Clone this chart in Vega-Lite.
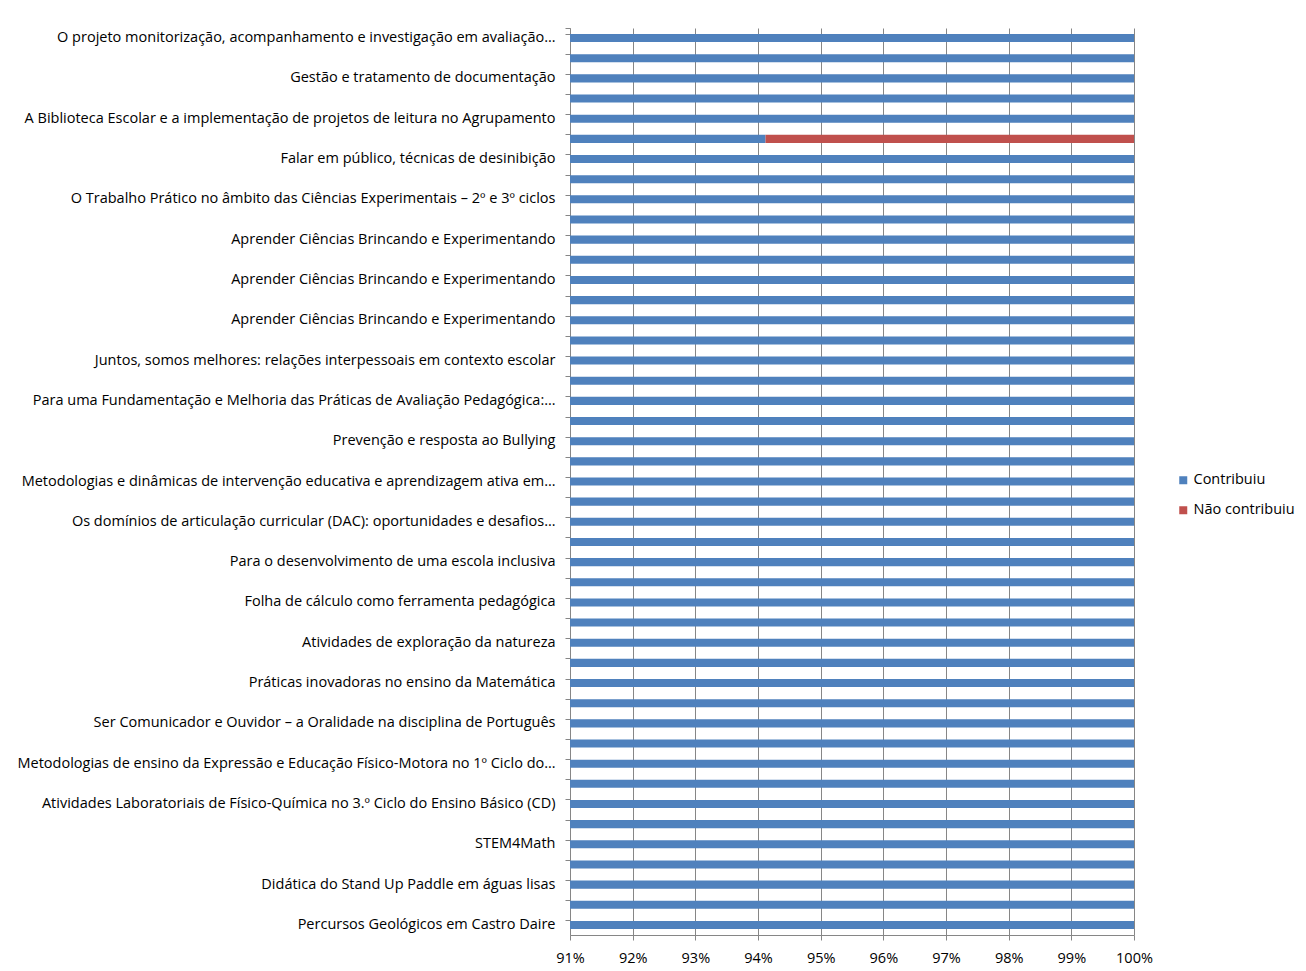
{
  "$schema": "https://vega.github.io/schema/vega-lite/v6.json",
  "autosize": {"type": "none"},
  "width": 564,
  "height": 907,
  "padding": {"left": 570, "top": 28, "right": 172, "bottom": 36},
  "background": "#ffffff",
  "config": {
    "view": {"stroke": null},
    "font": "Open Sans"
  },
  "data": {
    "values": [
      {"chave": "01|O projeto monitorização, acompanhamento e investigação em avaliação…", "avaliacao": "Contribuiu", "valor": 1.0},
      {"chave": "02|", "avaliacao": "Contribuiu", "valor": 1.0},
      {"chave": "03|Gestão e tratamento de documentação", "avaliacao": "Contribuiu", "valor": 1.0},
      {"chave": "04|", "avaliacao": "Contribuiu", "valor": 1.0},
      {"chave": "05|A Biblioteca Escolar e a implementação de projetos de leitura no Agrupamento", "avaliacao": "Contribuiu", "valor": 1.0},
      {"chave": "06|", "avaliacao": "Contribuiu", "valor": 0.9412},
      {"chave": "06|", "avaliacao": "Não contribuiu", "valor": 0.0588},
      {"chave": "07|Falar em público, técnicas de desinibição", "avaliacao": "Contribuiu", "valor": 1.0},
      {"chave": "08|", "avaliacao": "Contribuiu", "valor": 1.0},
      {"chave": "09|O Trabalho Prático no âmbito das Ciências Experimentais – 2º e 3º ciclos", "avaliacao": "Contribuiu", "valor": 1.0},
      {"chave": "10|", "avaliacao": "Contribuiu", "valor": 1.0},
      {"chave": "11|Aprender Ciências Brincando e Experimentando", "avaliacao": "Contribuiu", "valor": 1.0},
      {"chave": "12|", "avaliacao": "Contribuiu", "valor": 1.0},
      {"chave": "13|Aprender Ciências Brincando e Experimentando", "avaliacao": "Contribuiu", "valor": 1.0},
      {"chave": "14|", "avaliacao": "Contribuiu", "valor": 1.0},
      {"chave": "15|Aprender Ciências Brincando e Experimentando", "avaliacao": "Contribuiu", "valor": 1.0},
      {"chave": "16|", "avaliacao": "Contribuiu", "valor": 1.0},
      {"chave": "17|Juntos, somos melhores: relações interpessoais em contexto escolar", "avaliacao": "Contribuiu", "valor": 1.0},
      {"chave": "18|", "avaliacao": "Contribuiu", "valor": 1.0},
      {"chave": "19|Para uma Fundamentação e Melhoria das Práticas de Avaliação Pedagógica:…", "avaliacao": "Contribuiu", "valor": 1.0},
      {"chave": "20|", "avaliacao": "Contribuiu", "valor": 1.0},
      {"chave": "21|Prevenção e resposta ao Bullying", "avaliacao": "Contribuiu", "valor": 1.0},
      {"chave": "22|", "avaliacao": "Contribuiu", "valor": 1.0},
      {"chave": "23|Metodologias e dinâmicas de intervenção educativa e aprendizagem ativa em…", "avaliacao": "Contribuiu", "valor": 1.0},
      {"chave": "24|", "avaliacao": "Contribuiu", "valor": 1.0},
      {"chave": "25|Os domínios de articulação curricular (DAC): oportunidades e desafios…", "avaliacao": "Contribuiu", "valor": 1.0},
      {"chave": "26|", "avaliacao": "Contribuiu", "valor": 1.0},
      {"chave": "27|Para o desenvolvimento de uma escola inclusiva", "avaliacao": "Contribuiu", "valor": 1.0},
      {"chave": "28|", "avaliacao": "Contribuiu", "valor": 1.0},
      {"chave": "29|Folha de cálculo como ferramenta pedagógica", "avaliacao": "Contribuiu", "valor": 1.0},
      {"chave": "30|", "avaliacao": "Contribuiu", "valor": 1.0},
      {"chave": "31|Atividades de exploração da natureza", "avaliacao": "Contribuiu", "valor": 1.0},
      {"chave": "32|", "avaliacao": "Contribuiu", "valor": 1.0},
      {"chave": "33|Práticas inovadoras no ensino da Matemática", "avaliacao": "Contribuiu", "valor": 1.0},
      {"chave": "34|", "avaliacao": "Contribuiu", "valor": 1.0},
      {"chave": "35|Ser Comunicador e Ouvidor – a Oralidade na disciplina de Português", "avaliacao": "Contribuiu", "valor": 1.0},
      {"chave": "36|", "avaliacao": "Contribuiu", "valor": 1.0},
      {"chave": "37|Metodologias de ensino da Expressão e Educação Físico-Motora no 1º Ciclo do…", "avaliacao": "Contribuiu", "valor": 1.0},
      {"chave": "38|", "avaliacao": "Contribuiu", "valor": 1.0},
      {"chave": "39|Atividades Laboratoriais de Físico-Química no 3.º Ciclo do Ensino Básico (CD)", "avaliacao": "Contribuiu", "valor": 1.0},
      {"chave": "40|", "avaliacao": "Contribuiu", "valor": 1.0},
      {"chave": "41|STEM4Math", "avaliacao": "Contribuiu", "valor": 1.0},
      {"chave": "42|", "avaliacao": "Contribuiu", "valor": 1.0},
      {"chave": "43|Didática do Stand Up Paddle em águas lisas", "avaliacao": "Contribuiu", "valor": 1.0},
      {"chave": "44|", "avaliacao": "Contribuiu", "valor": 1.0},
      {"chave": "45|Percursos Geológicos em Castro Daire", "avaliacao": "Contribuiu", "valor": 1.0}
    ]
  },
  "mark": {"type": "bar", "clip": true},
  "encoding": {
    "y": {
      "field": "chave",
      "type": "nominal",
      "sort": null,
      "scale": {"paddingInner": 0.6, "paddingOuter": 0.3},
      "axis": {
        "title": null,
        "labelExpr": "split(datum.value, '|')[1]",
        "labelLimit": 700,
        "labelFont": "Open Sans",
        "labelFontSize": 14.5,
        "labelColor": "#000000",
        "labelPadding": 10,
        "bandPosition": 0,
        "tickExtra": true,
        "tickSize": 5,
        "tickColor": "#868686",
        "domainColor": "#868686",
        "grid": false
      }
    },
    "x": {
      "field": "valor",
      "type": "quantitative",
      "stack": "zero",
      "scale": {"domain": [0.91, 1.0], "nice": false, "zero": false},
      "axis": {
        "title": null,
        "format": ".0%",
        "values": [0.91, 0.92, 0.93, 0.94, 0.95, 0.96, 0.97, 0.98, 0.99, 1.0],
        "labelFlush": false,
        "grid": true,
        "gridColor": "#868686",
        "gridOpacity": 1,
        "tickColor": "#868686",
        "domainColor": "#868686",
        "tickSize": 5,
        "labelFont": "Open Sans",
        "labelFontSize": 14.5,
        "labelColor": "#000000",
        "labelPadding": 11
      }
    },
    "color": {
      "field": "avaliacao",
      "type": "nominal",
      "scale": {"domain": ["Contribuiu", "Não contribuiu"], "range": ["#4F81BD", "#C0504D"]},
      "legend": {
        "title": null,
        "orient": "none",
        "legendX": 606,
        "legendY": 445,
        "symbolType": "square",
        "symbolSize": 64,
        "symbolStrokeWidth": 0,
        "labelFont": "Open Sans",
        "labelFontSize": 14.5,
        "labelColor": "#000000",
        "labelOffset": 3,
        "rowPadding": 15
      }
    }
  }
}
